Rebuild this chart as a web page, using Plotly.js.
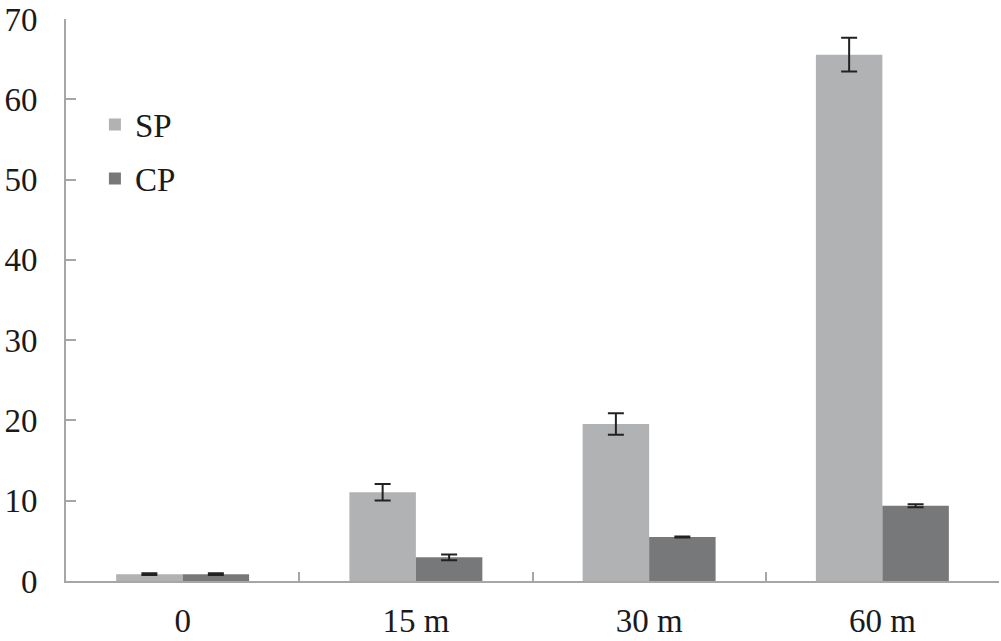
<!DOCTYPE html>
<html>
<head>
<meta charset="utf-8">
<script src="https://cdn.plot.ly/plotly-3.0.1.min.js"></script>
<style>html,body{margin:0;padding:0;background:#fff;}#chart{width:1001px;height:641px;}</style>
</head>
<body>
<div id="chart"></div>
<script>
const categories = ["0", "15 m", "30 m", "60 m"];
const spValues = [0.85, 11.05, 19.55, 65.55];
const spErrors = [0.1, 1.03, 1.33, 2.1];
const cpValues = [0.85, 2.95, 5.48, 9.38];
const cpErrors = [0.1, 0.35, 0.05, 0.18];
const yTicks = [0, 10, 20, 30, 40, 50, 60, 70];

const errStyle = {type: "data", visible: true, color: "#222222", thickness: 2, width: 8};

const traces = [
  {type: "bar", name: "SP", x: categories, y: spValues, legendgroup: "sp",
   marker: {color: "#b1b2b4", line: {width: 0}},
   error_y: Object.assign({array: spErrors}, errStyle)},
  {type: "bar", name: "CP", x: categories, y: cpValues, legendgroup: "cp",
   marker: {color: "#77787a", line: {width: 0}},
   error_y: Object.assign({array: cpErrors}, errStyle)}
];

const layout = {
  width: 1001, height: 641,
  margin: {l: 66, r: 2, t: 19, b: 60, pad: 0},
  paper_bgcolor: "#ffffff", plot_bgcolor: "#ffffff",
  font: {family: "'Liberation Serif', 'Times New Roman', serif", size: 33, color: "#1a1a1a"},
  barmode: "group", bargap: 0.43, bargroupgap: 0,
  showlegend: true,
  legend: {x: 0.031, y: 0.862, xanchor: "left", yanchor: "top", bgcolor: "rgba(0,0,0,0)",
           font: {size: 33}, tracegroupgap: 8, itemwidth: 30},
  xaxis: {type: "category", showgrid: false, zeroline: false, showline: true,
          linecolor: "#a6a6a6", linewidth: 2, ticks: "inside", tickson: "boundaries",
          ticklen: 9, tickwidth: 2, tickcolor: "#a6a6a6", ticklabelstandoff: 9,
          tickfont: {size: 33}},
  yaxis: {range: [0, 70], tickvals: yTicks, ticktext: yTicks.map(String),
          showgrid: false, zeroline: false, showline: true,
          linecolor: "#a6a6a6", linewidth: 2, ticks: "inside", ticklen: 10, tickwidth: 2,
          tickcolor: "#a6a6a6", ticklabelstandoff: 20, tickfont: {size: 33}}
};

Plotly.newPlot("chart", traces, layout, {displayModeBar: false, staticPlot: true});
</script>
</body>
</html>
